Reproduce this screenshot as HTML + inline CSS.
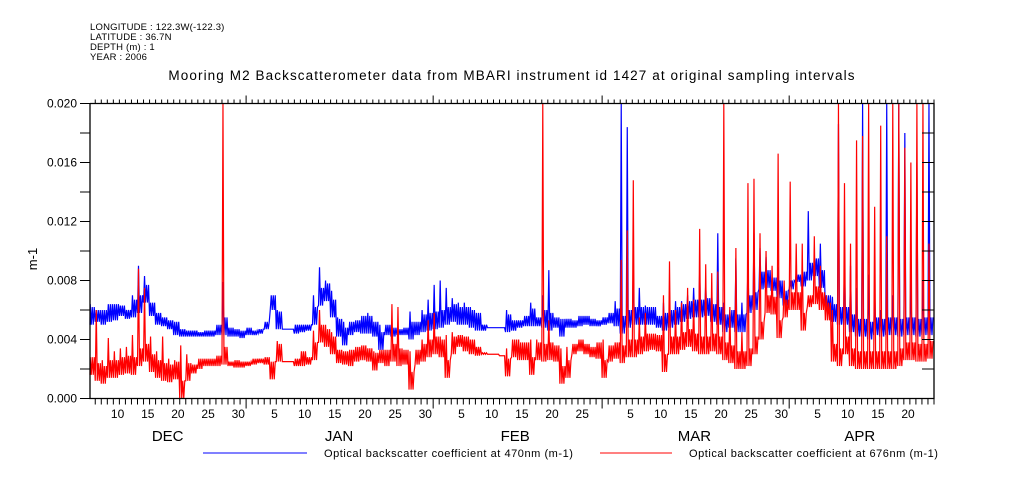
<!DOCTYPE html>
<html><head><meta charset="utf-8">
<style>
html,body{margin:0;padding:0;background:#fff;}
svg{display:block;}
text{font-family:"Liberation Sans",sans-serif;fill:#000;}
</style></head>
<body>
<svg id="chart" width="1009" height="504" viewBox="0 0 1009 504" xmlns="http://www.w3.org/2000/svg">
  <g font-size="9.5" letter-spacing="0.2">
    <text x="90" y="30">LONGITUDE : 122.3W(-122.3)</text>
    <text x="90" y="40">LATITUDE : 36.7N</text>
    <text x="90" y="50">DEPTH (m) : 1</text>
    <text x="90" y="60">YEAR : 2006</text>
  </g>
  <text x="512" y="80" text-anchor="middle" font-size="13.5" letter-spacing="1.1">Mooring M2 Backscatterometer data from MBARI instrument id 1427 at original sampling intervals</text>
  <text x="0" y="0" font-size="13" text-anchor="middle" transform="translate(37,259) rotate(-90)">m-1</text>
  <g id="plot"></g>
  <g id="axes"></g>
  <g font-size="11" letter-spacing="0.55">
    <line x1="203" y1="453" x2="307" y2="453" stroke="#0000ff" stroke-width="1"/>
    <text x="324" y="457">Optical backscatter coefficient at 470nm (m-1)</text>
    <line x1="600" y1="453" x2="672" y2="453" stroke="#ff0000" stroke-width="1"/>
    <text x="689" y="457">Optical backscatter coefficient at 676nm (m-1)</text>
  </g>
</svg>
<script>
// day index 0 = Dec 1 2005; series start at day 5
const startDay = 5;
const blueLo = [5.0,5.2,5.0,5.2,5.3,5.6,5.4,5.5,5.8,6.5,5.6,5.0,4.9,4.7,4.3,4.2,4.2,4.2,4.2,4.2,4.2,4.3,4.3,4.2,4.2,4.1,4.3,4.3,4.4,4.7,6.0,4.7,4.7,4.7,4.4,4.5,4.6,5.0,6.3,6.6,5.5,4.2,3.6,4.3,4.5,4.4,4.4,4.2,3.3,4.3,4.2,4.3,4.3,4.0,4.3,4.5,4.6,4.7,4.8,5.0,5.2,5.0,5.0,4.8,4.6,4.6,4.8,4.8,4.8,4.5,4.6,4.8,4.9,4.9,4.9,4.8,4.6,4.8,4.2,4.8,4.8,4.9,5.0,4.9,4.9,5.0,5.1,4.9,4.4,4.8,5.0,5.0,5.0,5.0,4.8,4.6,4.8,5.0,5.2,5.4,5.5,5.5,5.6,5.2,5.0,4.5,4.8,4.5,4.5,5.8,6.0,7.4,7.5,7.3,6.8,6.3,7.4,7.9,7.6,8.0,8.3,7.5,5.8,5.2,5.0,5.0,4.5,4.2,4.2,4.0,4.3,4.2,4.3,4.3,4.2,4.3,4.3,4.2,4.3,4.3];
const blueHi = [6.4,6.0,6.0,6.4,6.4,6.3,6.0,7.0,9.0,8.3,6.5,5.8,5.5,5.3,5.2,4.7,4.6,4.6,4.5,4.6,4.6,5.0,7.9,4.8,4.7,4.6,4.8,4.6,4.7,5.2,7.0,6.0,4.7,4.7,5.0,5.0,5.0,7.0,8.9,8.0,7.3,5.5,5.2,5.2,5.3,5.6,5.8,5.2,5.0,5.0,4.8,4.7,4.8,5.9,5.2,6.0,6.7,7.7,8.0,7.5,6.8,6.5,6.5,6.2,5.8,5.0,4.8,4.8,4.8,6.0,5.3,5.3,5.6,6.5,5.5,7.0,8.7,5.5,5.4,5.4,5.3,5.6,5.6,5.4,5.3,5.5,5.8,6.6,20,18.4,8.8,7.5,6.3,6.2,5.6,6.5,6.5,6.6,6.6,7.0,7.5,8.6,7.8,7.2,11.2,6.5,6.0,9.5,6.5,9.0,11.2,10.2,9.6,8.2,8.9,7.3,8.0,8.4,8.6,12.7,9.7,10.5,7.0,6.9,18.6,9.6,9.0,7.5,20,8.4,7.5,6.0,20,7.0,20,18,8.0,16,8.0,20];
const redLo = [1.6,1.2,1.0,1.4,1.4,1.6,1.7,1.6,2.2,2.5,1.8,1.4,1.2,1.1,1.3,0,1.2,1.7,2.0,2.2,2.2,2.2,2.3,2.2,2.1,2.1,2.2,2.3,2.4,2.3,1.3,2.5,2.5,2.5,2.2,2.2,2.3,2.6,3.8,3.5,3.0,2.4,2.3,2.2,2.5,2.6,2.5,1.9,2.4,2.2,2.5,2.2,2.3,0.6,2.3,2.5,2.8,3.0,2.8,1.4,3.0,3.5,3.2,3.0,2.9,3.0,3.0,3.0,2.9,1.5,2.8,2.6,2.6,1.6,2.6,2.5,2.6,2.5,1.0,1.4,3.0,3.2,3.0,2.8,2.7,1.4,2.5,2.7,2.4,2.8,2.8,3.0,3.2,3.3,3.2,1.8,3.0,3.0,3.3,3.5,3.2,3.0,3.0,3.2,3.0,2.6,2.4,2.0,2.0,2.2,3.0,4.0,5.8,5.7,4.1,5.5,6.0,6.0,4.6,6.2,6.4,6.0,5.3,2.5,2.2,3.0,2.2,2.0,2.0,2.0,2.0,2.0,2.0,2.0,2.2,2.6,2.6,2.5,2.5,2.7];
const redHi = [2.8,6.0,2.6,4.1,3.2,3.4,3.5,4.3,8.8,7.5,4.2,3.2,4.2,2.7,2.6,3.6,3.0,2.3,2.7,2.7,2.7,2.9,20,2.5,2.6,2.5,2.5,2.7,2.7,2.8,2.5,3.9,2.5,2.5,2.7,3.2,2.8,4.6,6.0,5.0,4.5,3.3,3.2,3.3,3.5,3.6,3.4,3.2,3.3,3.3,6.4,6.2,3.3,3.2,3.3,4.0,5.3,5.8,4.2,4.3,4.5,4.3,4.2,4.0,3.5,3.1,3.0,3.0,2.9,3.4,4.0,4.0,3.8,4.0,4.0,20,5.3,3.6,3.4,3.5,3.7,4.0,3.7,3.5,3.8,4.0,3.6,3.8,9.4,11.4,14.8,5.5,5.8,4.4,4.3,7.0,9.3,6.0,6.5,7.5,6.7,11.5,9.1,8.5,8.6,20,6.2,10.2,4.5,14.6,14.9,11.2,10.0,9.0,16.6,8.0,14.7,10.5,10.5,7.0,11.0,9.0,7.0,6.0,20,14.6,10.5,17.5,17.8,20,13.0,18.5,11.0,20,20,17.0,16.0,20,20,10.5];
const yTicks = [0,0.002,0.004,0.006,0.008,0.010,0.012,0.014,0.016,0.018,0.020];
const yLabels = ["0.000","","0.004","","0.008","","0.012","","0.016","","0.020"];
const months = ["DEC","JAN","FEB","MAR","APR"];
const monthStart = [0,31,62,90,121];
const monthLen = [31,31,28,31,30];
const monthLabelDay = [18.0,46.4,75.6,105.3,132.7];
const dayLabels = [[10,15,20,25,30],[5,10,15,20,25,30],[5,10,15,20,25],[5,10,15,20,25,30],[5,10,15,20]];

const NS = "http://www.w3.org/2000/svg";
const X0 = 90, X1 = 934, Y0 = 398.5, Y1 = 103.5;
const dMin = 5.13, dMax = 145;
function xs(d){ return X0 + (d - dMin) * (X1 - X0) / (dMax - dMin); }
function ys(v){ return Y0 - v * (Y0 - Y1) / 0.020; }
function mk(tag, attrs, parent){ const e = document.createElementNS(NS, tag); for (const k in attrs) e.setAttribute(k, attrs[k]); parent.appendChild(e); return e; }

const plot = document.getElementById('plot');
const axes = document.getElementById('axes');

function seriesPath(lo, hi){
  let pts = [];
  for (let i = 0; i < lo.length; i++){
    const d = startDay + i;
    const l = lo[i] / 1000, h = hi[i] / 1000;
    const b = l + Math.min(h - l, 0.0012);
    const seq = [l, h, l, b, l, b];
    for (let k = 0; k < 6; k++){
      const dd = Math.max(dMin, d + k / 6);
      pts.push(xs(dd).toFixed(2) + ',' + ys(Math.min(0.020, seq[k])).toFixed(2));
    }
  }
  return 'M' + pts.join('L');
}
const bp = mk('path', {d: seriesPath(blueLo, blueHi), fill: 'none', stroke: '#0000ff', 'stroke-width': 1.2}, plot);


const rp = mk('path', {d: seriesPath(redLo, redHi), fill: 'none', stroke: '#ff0000', 'stroke-width': 1.2}, plot);



const fr = mk('path', {d: `M${X0},${Y1}V${Y0}H${X1}V${Y1}H${X0}`, fill: 'none', stroke: '#000', 'stroke-width': 1.3}, axes);



yTicks.forEach((v, i) => {
  const y = ys(v);
  const t = mk('line', {x1: X0 - 10, y1: y, x2: X0, y2: y, stroke: '#000'}, axes);
  
  
  const t2 = mk('line', {x1: X1 - 12, y1: y, x2: X1, y2: y, stroke: '#000'}, axes);
  
  
  if (yLabels[i]){
    const tx = mk('text', {x: X0 - 13, y: y + 4, 'text-anchor': 'end', 'font-size': 12}, axes);
    tx.textContent = yLabels[i];
    
    
  }
});

for (let m = 0; m < months.length; m++){
  for (let dd = 0; dd < monthLen[m]; dd++){
    const d = monthStart[m] + dd;
    if (d < dMin - 0.01 || d > dMax + 0.01) continue;
    const x = xs(d);
    const major = dd === 0;
    const tb = mk('line', {x1: x, y1: Y0, x2: x, y2: Y0 + (major ? 10 : 6), stroke: '#000'}, axes);
    
    
    const tt = mk('line', {x1: x, y1: Y1, x2: x, y2: Y1 - (major ? 8 : 4), stroke: '#000'}, axes);
    
    
  }
  dayLabels[m].forEach(n => {
    const x = xs(monthStart[m] + n - 1 + 0.7);
    const tx = mk('text', {x: x, y: 418, 'text-anchor': 'middle', 'font-size': 12}, axes);
    tx.textContent = String(n);
    
    
  });
  const ml = mk('text', {x: xs(monthLabelDay[m]), y: 441, 'text-anchor': 'middle', 'font-size': 15}, axes);
  ml.textContent = months[m];
  
  
}
</script>
</body></html>
